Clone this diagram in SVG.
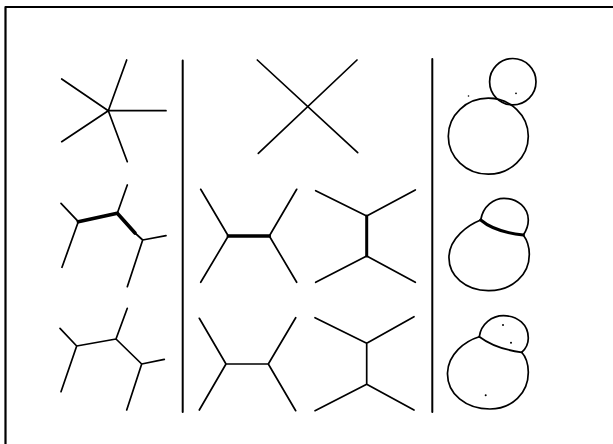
<svg xmlns="http://www.w3.org/2000/svg" width="613" height="444" viewBox="0 0 613 444">
<style>
.l{stroke:#000;stroke-width:1.7;fill:none;stroke-linecap:round;stroke-linejoin:round}
.t{stroke:#000;stroke-width:3.6;fill:none;stroke-linecap:round}
.dot{fill:#000}
</style>
<rect width="613" height="444" fill="#fff"/>
<g id="frame">
<path class="l" style="stroke-width:2.2" d="M5.5,7 H613 M5.5,7 V444"/>
<path class="l" style="stroke-width:2" d="M182.7,60.5 V412 M432.3,59 V412"/>
</g>
<g id="star5">
<path class="l" d="M108.3,110.7 L61.7,79 M108.3,110.7 L126.7,60 M108.3,110.7 L166,110.7 M108.3,110.7 L61.7,141.7 M108.3,110.7 L127.3,161.7"/>
</g>
<g id="cross">
<path class="l" d="M257.3,60 L357.7,152.7 M357,60 L258.3,153.3"/>
</g>
<g id="bubbles-top">
<circle class="l" cx="512.8" cy="81.7" r="23.2"/>
<ellipse class="l" cx="488.3" cy="136.2" rx="40" ry="38"/>
<circle class="dot" cx="516" cy="93.3" r="0.9"/>
<circle class="dot" cx="468.5" cy="96" r="0.8"/>
</g>
<g id="tree-mid">
<path class="l" d="M78.3,221.7 L61,203.3 M78.3,221.7 L62,267.3 M117.3,213.3 L127.3,185 M142.7,240 L166,235.7 M142.7,240 L127.3,286.7 M135,233 L142.7,240"/>
<path class="t" d="M78.3,221.7 L117.3,213.3 L135,233"/>
</g>
<g id="h-mid">
<path class="l" d="M228.3,236 L200.7,189.3 M228.3,236 L200.7,282.3 M269.3,236 L296.7,189.3 M269.3,236 L296.7,282.3"/>
<path class="t" d="M228.3,236 H269.3"/>
</g>
<g id="i-mid">
<path class="l" d="M366.7,216 L315.7,190.7 M366.7,216 L415.3,190 M366.7,256 L315.7,282.3 M366.7,256 L415.3,282.3"/>
<path class="t" style="stroke-width:3" d="M366.7,216 V256"/>
</g>
<g id="bubbles-mid">
<path class="l" d="M480.7,220 C468,225 450,238 449,256 C448,276 466,291 489,290.7 C512,290.5 529.5,275 529.3,254 C529.2,246 527,240 523.3,235"/>
<path class="l" d="M480.7,220 C483,206 494,198.3 504,198.3 C518,198.3 528.3,208 528.3,220 C528.3,226 526,231 523.3,235"/>
<path class="t" style="stroke-width:3" d="M480.7,220 C490,228 505,233 523.3,235"/>
</g>
<g id="tree-bot">
<path class="l" d="M76.7,346 L60,328.3 M76.7,346 L61,391.7 M76.7,346 L116,339 L127.3,308.3 M116,339 L141.7,364 L164.3,359.3 M141.7,364 L126.7,410"/>
</g>
<g id="h-bot">
<path class="l" d="M226,364 L199.3,318.3 M226,364 L199.3,410 M226,364 H268.3 M268.3,364 L295.7,317.7 M268.3,364 L295.7,410.7"/>
</g>
<g id="i-bot">
<path class="l" d="M366.7,343.3 L315,317.7 M366.7,343.3 L414,316.7 M366.7,343.3 V384.3 M366.7,384.3 L315,410.7 M366.7,384.3 L414,410"/>
</g>
<g id="bubbles-bot">
<path class="l" d="M479.3,336.7 C465,341 448,354 447.5,373 C447,394 466,409 490,409 C512,409 528.5,393 528.3,372 C528.2,364 526,357 521.7,352.3"/>
<path class="l" d="M479.3,336.7 C481,324 492,315.7 503.5,315.7 C518,315.7 528.3,325 528.3,338 C528.3,344 525.5,349 521.7,352.3"/>
<path class="l" d="M479.3,336.7 C489,344 504,350 521.7,352.3"/>
<circle class="dot" cx="503" cy="325" r="1"/>
<circle class="dot" cx="511" cy="342.7" r="1"/>
<circle class="dot" cx="485.7" cy="395.3" r="1"/>
</g>
</svg>
